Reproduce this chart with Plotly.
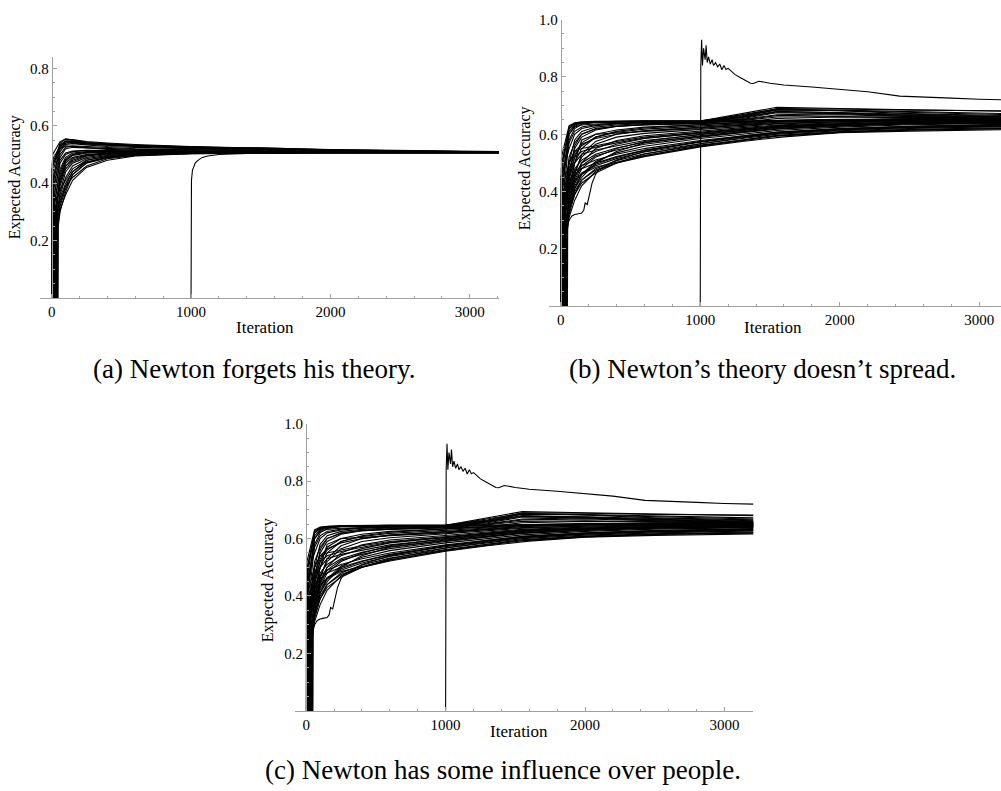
import plotly.graph_objects as go

# ---------------- data ----------------
# Panel (a): knots (iterations) after the initial jump
KNOTS_A = [60, 100, 150, 250, 400, 600, 1000, 1500, 2000, 3210]
START_A = [0, 5, 10, 3, 8, 14, 2, 12, 20, 18, 25, 30, 22, 35, 28, 40, 15, 33, 45, 38, 6, 27,
           4, 11, 19, 26, 36, 43, 9, 31]
JUMP_A = [0.45, 0.5, 0.42, 0.48, 0.4, 0.38, 0.47, 0.35, 0.33, 0.36, 0.3, 0.32, 0.31, 0.28,
          0.3, 0.27, 0.33, 0.29, 0.25, 0.3, 0.44, 0.31,
          0.46, 0.39, 0.34, 0.3, 0.28, 0.26, 0.42, 0.31]
VALUES_A = [
    [0.54, 0.553, 0.552, 0.545, 0.54, 0.535, 0.528, 0.522, 0.517, 0.51],
    [0.545, 0.555, 0.55, 0.542, 0.537, 0.532, 0.526, 0.52, 0.515, 0.509],
    [0.53, 0.548, 0.548, 0.54, 0.535, 0.53, 0.525, 0.518, 0.514, 0.509],
    [0.53, 0.54, 0.54, 0.535, 0.532, 0.528, 0.523, 0.517, 0.513, 0.508],
    [0.51, 0.535, 0.538, 0.533, 0.528, 0.525, 0.52, 0.515, 0.512, 0.508],
    [0.5, 0.525, 0.53, 0.528, 0.524, 0.52, 0.517, 0.513, 0.511, 0.508],
    [0.52, 0.53, 0.528, 0.522, 0.518, 0.515, 0.513, 0.511, 0.509, 0.507],
    [0.47, 0.5, 0.51, 0.513, 0.513, 0.512, 0.511, 0.51, 0.509, 0.507],
    [0.45, 0.49, 0.505, 0.51, 0.511, 0.51, 0.51, 0.509, 0.508, 0.507],
    [0.48, 0.505, 0.512, 0.515, 0.514, 0.512, 0.511, 0.509, 0.508, 0.507],
    [0.42, 0.47, 0.49, 0.5, 0.505, 0.507, 0.508, 0.508, 0.508, 0.507],
    [0.43, 0.48, 0.497, 0.505, 0.508, 0.509, 0.509, 0.508, 0.508, 0.507],
    [0.4, 0.46, 0.485, 0.498, 0.503, 0.506, 0.507, 0.507, 0.507, 0.507],
    [0.37, 0.44, 0.47, 0.49, 0.5, 0.504, 0.506, 0.507, 0.507, 0.506],
    [0.35, 0.4, 0.44, 0.475, 0.49, 0.5, 0.505, 0.506, 0.507, 0.506],
    [0.32, 0.38, 0.43, 0.47, 0.488, 0.498, 0.504, 0.506, 0.506, 0.506],
    [0.38, 0.41, 0.45, 0.48, 0.493, 0.5, 0.505, 0.506, 0.507, 0.506],
    [0.34, 0.39, 0.42, 0.46, 0.485, 0.497, 0.503, 0.505, 0.506, 0.506],
    [0.3, 0.37, 0.43, 0.472, 0.49, 0.5, 0.505, 0.506, 0.506, 0.506],
    [0.36, 0.42, 0.46, 0.485, 0.497, 0.503, 0.506, 0.507, 0.507, 0.507],
    [0.535, 0.545, 0.543, 0.538, 0.534, 0.53, 0.524, 0.523, 0.516, 0.509],
    [0.41, 0.475, 0.5, 0.508, 0.51, 0.51, 0.509, 0.508, 0.508, 0.507],
    [0.525, 0.545, 0.546, 0.54, 0.536, 0.532, 0.527, 0.521, 0.516, 0.509],
    [0.49, 0.52, 0.525, 0.523, 0.52, 0.518, 0.516, 0.513, 0.511, 0.508],
    [0.44, 0.485, 0.5, 0.508, 0.51, 0.51, 0.51, 0.509, 0.508, 0.507],
    [0.39, 0.45, 0.475, 0.495, 0.503, 0.506, 0.507, 0.507, 0.507, 0.507],
    [0.33, 0.39, 0.44, 0.48, 0.495, 0.502, 0.505, 0.506, 0.507, 0.506],
    [0.31, 0.36, 0.41, 0.455, 0.48, 0.495, 0.503, 0.505, 0.506, 0.506],
    [0.52, 0.54, 0.542, 0.537, 0.533, 0.529, 0.524, 0.519, 0.514, 0.508],
    [0.41, 0.46, 0.48, 0.497, 0.504, 0.507, 0.508, 0.508, 0.508, 0.507],
]
LATE_A_X = [1000, 1001, 1003, 1010, 1030, 1045, 1060, 1080, 1120, 1200, 1400, 1800, 3210]
LATE_A_Y = [0.0, 0.3, 0.41, 0.445, 0.47, 0.478, 0.482, 0.49, 0.495, 0.5, 0.504, 0.506, 0.506]

# Panels (b) and (c)
KNOTS_B = [60, 100, 150, 250, 400, 600, 1000, 1300, 1550, 2000, 2500, 3210]
START_B = [0, 5, 10, 3, 8, 15, 2, 12, 20, 18, 25, 30, 22, 35, 28, 40, 15, 33, 45,
           10, 38, 26, 42, 16, 48, 6, 24,
           4, 13, 19, 27, 36, 44, 9, 21, 31, 39, 17, 7, 24]
JUMP_B = [0.45, 0.5, 0.42, 0.52, 0.4, 0.38, 0.48, 0.35, 0.33, 0.36, 0.3, 0.32, 0.31,
          0.28, 0.34, 0.3, 0.37, 0.29, 0.27, 0.4, 0.3, 0.33, 0.28, 0.36, 0.3, 0.44, 0.34,
          0.46, 0.39, 0.34, 0.31, 0.29, 0.26, 0.41, 0.35, 0.3, 0.28, 0.37, 0.43, 0.32]
VALUES_B = [
    [0.625, 0.638, 0.642, 0.644, 0.645, 0.646, 0.647, 0.665, 0.69, 0.688, 0.684, 0.682],
    [0.62, 0.636, 0.641, 0.643, 0.645, 0.646, 0.646, 0.672, 0.694, 0.69, 0.685, 0.68],
    [0.61, 0.632, 0.64, 0.643, 0.644, 0.645, 0.645, 0.668, 0.688, 0.682, 0.672, 0.665],
    [0.63, 0.64, 0.643, 0.645, 0.646, 0.646, 0.646, 0.66, 0.68, 0.675, 0.665, 0.658],
    [0.6, 0.628, 0.638, 0.642, 0.644, 0.645, 0.645, 0.655, 0.675, 0.672, 0.662, 0.655],
    [0.58, 0.62, 0.635, 0.641, 0.643, 0.644, 0.644, 0.647, 0.65, 0.652, 0.65, 0.648],
    [0.62, 0.635, 0.64, 0.642, 0.643, 0.643, 0.642, 0.645, 0.648, 0.65, 0.652, 0.65],
    [0.5, 0.58, 0.61, 0.625, 0.632, 0.637, 0.64, 0.66, 0.685, 0.682, 0.676, 0.668],
    [0.47, 0.55, 0.59, 0.615, 0.627, 0.633, 0.638, 0.648, 0.66, 0.662, 0.66, 0.655],
    [0.52, 0.57, 0.6, 0.618, 0.628, 0.634, 0.64, 0.65, 0.665, 0.668, 0.662, 0.658],
    [0.44, 0.52, 0.57, 0.6, 0.615, 0.625, 0.633, 0.64, 0.648, 0.652, 0.655, 0.652],
    [0.42, 0.5, 0.55, 0.59, 0.607, 0.618, 0.628, 0.637, 0.645, 0.65, 0.654, 0.656],
    [0.4, 0.47, 0.52, 0.565, 0.59, 0.603, 0.617, 0.627, 0.636, 0.643, 0.648, 0.65],
    [0.38, 0.45, 0.5, 0.55, 0.578, 0.595, 0.612, 0.623, 0.632, 0.64, 0.645, 0.648],
    [0.42, 0.48, 0.51, 0.54, 0.565, 0.585, 0.605, 0.618, 0.628, 0.636, 0.642, 0.646],
    [0.36, 0.43, 0.48, 0.52, 0.55, 0.575, 0.6, 0.614, 0.625, 0.634, 0.64, 0.644],
    [0.45, 0.5, 0.53, 0.545, 0.56, 0.578, 0.598, 0.612, 0.624, 0.633, 0.638, 0.642],
    [0.37, 0.44, 0.49, 0.525, 0.545, 0.565, 0.59, 0.605, 0.618, 0.628, 0.636, 0.64],
    [0.33, 0.41, 0.46, 0.505, 0.535, 0.558, 0.585, 0.6, 0.613, 0.625, 0.633, 0.638],
    [0.44, 0.47, 0.49, 0.51, 0.53, 0.55, 0.578, 0.594, 0.607, 0.619, 0.628, 0.635],
    [0.35, 0.42, 0.46, 0.495, 0.52, 0.543, 0.572, 0.59, 0.604, 0.616, 0.624, 0.63],
    [0.38, 0.43, 0.465, 0.49, 0.515, 0.538, 0.567, 0.585, 0.6, 0.612, 0.62, 0.627],
    [0.32, 0.39, 0.44, 0.48, 0.508, 0.532, 0.562, 0.58, 0.596, 0.609, 0.617, 0.623],
    [0.41, 0.44, 0.46, 0.485, 0.503, 0.526, 0.558, 0.577, 0.593, 0.606, 0.614, 0.62],
    [0.34, 0.4, 0.44, 0.475, 0.5, 0.525, 0.56, 0.58, 0.595, 0.607, 0.615, 0.62],
    [0.6, 0.625, 0.632, 0.636, 0.638, 0.64, 0.642, 0.658, 0.678, 0.676, 0.67, 0.662],
    [0.5, 0.54, 0.565, 0.585, 0.6, 0.612, 0.625, 0.634, 0.642, 0.647, 0.649, 0.648],
    [0.55, 0.6, 0.62, 0.63, 0.636, 0.64, 0.643, 0.663, 0.686, 0.684, 0.678, 0.672],
    [0.48, 0.53, 0.56, 0.59, 0.61, 0.622, 0.632, 0.642, 0.655, 0.66, 0.658, 0.654],
    [0.4, 0.5, 0.58, 0.6, 0.605, 0.61, 0.62, 0.632, 0.642, 0.648, 0.652, 0.651],
    [0.39, 0.46, 0.53, 0.575, 0.6, 0.612, 0.622, 0.63, 0.638, 0.644, 0.647, 0.649],
    [0.35, 0.41, 0.45, 0.5, 0.54, 0.57, 0.595, 0.609, 0.621, 0.631, 0.638, 0.641],
    [0.31, 0.37, 0.42, 0.47, 0.51, 0.54, 0.575, 0.594, 0.608, 0.62, 0.628, 0.633],
    [0.5, 0.54, 0.55, 0.56, 0.575, 0.59, 0.607, 0.62, 0.63, 0.637, 0.642, 0.645],
    [0.46, 0.52, 0.54, 0.555, 0.57, 0.587, 0.603, 0.616, 0.627, 0.636, 0.641, 0.643],
    [0.37, 0.45, 0.5, 0.53, 0.552, 0.572, 0.592, 0.607, 0.62, 0.63, 0.637, 0.64],
    [0.34, 0.39, 0.43, 0.465, 0.5, 0.53, 0.567, 0.588, 0.603, 0.615, 0.623, 0.628],
    [0.43, 0.46, 0.48, 0.5, 0.522, 0.545, 0.575, 0.592, 0.606, 0.618, 0.626, 0.632],
    [0.57, 0.61, 0.625, 0.633, 0.638, 0.641, 0.643, 0.652, 0.668, 0.672, 0.668, 0.66],
    [0.45, 0.56, 0.6, 0.62, 0.628, 0.632, 0.636, 0.641, 0.646, 0.65, 0.651, 0.652],
]
JAG_B_X = [0, 30, 32, 60, 80, 100, 120, 150, 165, 175, 190, 200, 225, 250, 270, 400, 600,
           1000, 1300, 1600, 2000, 2500, 3210]
JAG_B_Y = [0.0, 0.0, 0.26, 0.3, 0.315, 0.32, 0.322, 0.325, 0.335, 0.36, 0.355, 0.38, 0.43,
           0.46, 0.475, 0.5, 0.522, 0.556, 0.575, 0.591, 0.605, 0.611, 0.616]
NEWTON_X = [1000, 1004, 1010, 1016, 1024, 1035, 1042, 1050, 1060, 1072, 1085, 1095, 1110,
            1125, 1140, 1155, 1170, 1185, 1200, 1220, 1250, 1280, 1320, 1360, 1380, 1420,
            1500, 1600, 1800, 2000, 2200, 2430, 2500, 2800, 3000, 3210]
NEWTON_Y = [0.0, 0.84, 0.93, 0.84, 0.9, 0.86, 0.91, 0.85, 0.87, 0.845, 0.86, 0.84, 0.85,
            0.835, 0.845, 0.825, 0.84, 0.826, 0.83, 0.82, 0.808, 0.8, 0.79, 0.778, 0.777,
            0.785, 0.778, 0.772, 0.765, 0.757, 0.748, 0.733, 0.732, 0.726, 0.722, 0.72]

Y_TICKS_A = [0.2, 0.4, 0.6, 0.8]
Y_TICKS_BC = [0.2, 0.4, 0.6, 0.8, 1.0]
X_TICKS = [0, 1000, 2000, 3000]
CAPTIONS = ["(a) Newton forgets his theory.",
            "(b) Newton\u2019s theory doesn\u2019t spread.",
            "(c) Newton has some influence over people."]

# ---------------- figure ----------------
W, H = 1001, 791
FONT = "Liberation Serif, DejaVu Serif, serif"
AX_GRAY = "#a0a0a0"
LW = 1.1

fig = go.Figure()


def add_runs(xref, yref, knots, starts, jumps, values):
    for s, j, v in zip(starts, jumps, values):
        xs = [0, s, s + 2] + list(knots)
        ys = [0.0, 0.0, j] + list(v)
        fig.add_trace(go.Scatter(x=xs, y=ys, mode="lines", xaxis=xref, yaxis=yref,
                                 line=dict(color="black", width=LW), showlegend=False,
                                 hoverinfo="skip"))


def add_line(xref, yref, xs, ys):
    fig.add_trace(go.Scatter(x=xs, y=ys, mode="lines", xaxis=xref, yaxis=yref,
                             line=dict(color="black", width=LW), showlegend=False,
                             hoverinfo="skip"))


# panel a
add_runs("x", "y", KNOTS_A, START_A, JUMP_A, VALUES_A)
add_line("x", "y", LATE_A_X, LATE_A_Y)
# panel b
add_runs("x2", "y2", KNOTS_B, START_B, JUMP_B, VALUES_B)
add_line("x2", "y2", JAG_B_X, JAG_B_Y)
add_line("x2", "y2", NEWTON_X, NEWTON_Y)
# panel c
add_runs("x3", "y3", KNOTS_B, START_B, JUMP_B, VALUES_B)
add_line("x3", "y3", JAG_B_X, JAG_B_Y)
add_line("x3", "y3", NEWTON_X, NEWTON_Y)


def px(x):
    return x / W


def py(y):
    return 1 - y / H


def xaxis_spec(dom, rng, anchor):
    return dict(domain=dom, range=rng, anchor=anchor, showgrid=False, zeroline=False,
                showline=True, linecolor=AX_GRAY, linewidth=1,
                tickmode="array", tickvals=X_TICKS, ticktext=[str(t) for t in X_TICKS],
                ticks="inside", ticklen=4, tickcolor=AX_GRAY, tickwidth=1,
                tickfont=dict(family=FONT, size=15, color="black"),
                minor=dict(dtick=200, tick0=0, ticks="inside", ticklen=2,
                           tickcolor=AX_GRAY, showgrid=False),
                fixedrange=True)


def yaxis_spec(dom, rng, pos, ticks):
    return dict(domain=dom, range=rng, anchor="free", position=pos, showgrid=False,
                zeroline=False, showline=True, linecolor=AX_GRAY, linewidth=1,
                tickmode="array", tickvals=ticks, ticktext=["%.1f" % t for t in ticks],
                ticks="inside", ticklen=4, tickcolor=AX_GRAY, tickwidth=1,
                tickfont=dict(family=FONT, size=15, color="black"),
                minor=dict(dtick=0.05, tick0=0, ticks="inside", ticklen=2,
                           tickcolor=AX_GRAY, showgrid=False),
                fixedrange=True)


fig.update_layout(
    width=W, height=H, margin=dict(l=0, r=0, t=0, b=0),
    paper_bgcolor="white", plot_bgcolor="white",
    xaxis=xaxis_spec([px(40), px(499)], [-84, 3210], "y"),
    yaxis=yaxis_spec([py(293), py(50)], [0, 0.838], px(51.7), Y_TICKS_A),
    xaxis2=xaxis_spec([px(549.3), 1.0], [-82, 3156], "y2"),
    yaxis2=yaxis_spec([py(301.3), py(11.7)], [0, 1.0], px(560.7), Y_TICKS_BC),
    xaxis3=xaxis_spec([px(294.5), px(753.3)], [-84, 3207], "y3"),
    yaxis3=yaxis_spec([py(710), py(420)], [0, 1.0], px(306), Y_TICKS_BC),
)

annots = []
for (x, y) in [(265, 323), (773, 323), (519, 731)]:
    annots.append(dict(text="Iteration", x=px(x), y=py(y), xref="paper", yref="paper",
                       showarrow=False, xanchor="center", yanchor="middle",
                       font=dict(family=FONT, size=17, color="black")))
for (x, y) in [(15, 171), (525, 162), (268, 578)]:
    annots.append(dict(text="Expected Accuracy", x=px(x), y=py(y), xref="paper",
                       yref="paper", showarrow=False, textangle=-90, xanchor="center",
                       yanchor="middle", font=dict(family=FONT, size=16, color="black")))
for cap, (x, y) in zip(CAPTIONS, [(254, 365), (762, 365), (503, 770)]):
    annots.append(dict(text=cap, x=px(x), y=py(y), xref="paper", yref="paper",
                       showarrow=False, xanchor="center", yanchor="middle",
                       font=dict(family=FONT, size=27, color="black")))
fig.update_layout(annotations=annots)

fig.write_html("out.html")
